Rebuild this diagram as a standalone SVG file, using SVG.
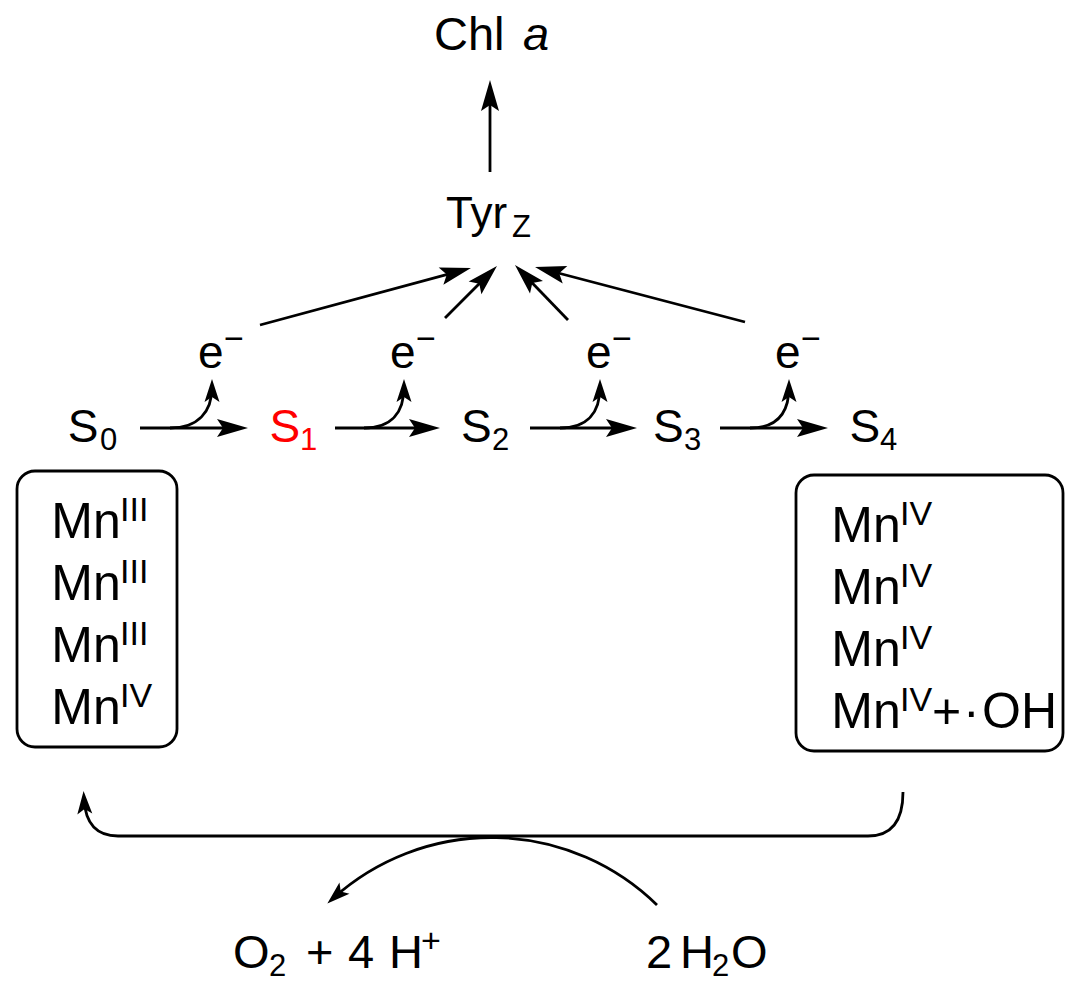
<svg xmlns="http://www.w3.org/2000/svg" width="1080" height="993" viewBox="0 0 1080 993">
<style>
text{font-family:"Liberation Sans",Arial,Helvetica,sans-serif;fill:#000}
.m{font-size:46px}
.sub{font-size:31px}
.sup{font-size:34px}
.mn{font-size:50px}
.ln{fill:none;stroke:#000;stroke-width:2.8}
.bx{fill:#fff;stroke:#000;stroke-width:2.8}
.red{fill:#ff0000}
</style>
<defs>
<marker id="big" markerUnits="userSpaceOnUse" viewBox="0 -9 31 18" refX="21" refY="0" markerWidth="31" markerHeight="18" orient="auto" overflow="visible">
<path d="M31,0 L0,-9 L6,0 L0,9 Z" fill="#000"/>
</marker>
<marker id="small" markerUnits="userSpaceOnUse" viewBox="0 -7.5 23 15" refX="15" refY="0" markerWidth="23" markerHeight="15" orient="auto" overflow="visible">
<path d="M23,0 L0,-7.5 L5,0 L0,7.5 Z" fill="#000"/>
</marker>
</defs>
<rect width="1080" height="993" fill="#fff"/>

<g id="connectors">
<path class="ln" d="M490,172 V90" marker-end="url(#big)"/>
<path class="ln" d="M260,325 L461.3,270.6" marker-end="url(#big)"/>
<path class="ln" d="M445,318 L489.9,273.1" marker-end="url(#big)"/>
<path class="ln" d="M568,320 L521.9,272.2" marker-end="url(#big)"/>
<path class="ln" d="M745,322 L544.7,269.5" marker-end="url(#big)"/>
<path class="ln" d="M140,428 H238" marker-end="url(#big)"/>
<path class="ln" d="M335,428 H430" marker-end="url(#big)"/>
<path class="ln" d="M530,428 H627" marker-end="url(#big)"/>
<path class="ln" d="M720,428 H818" marker-end="url(#big)"/>
<path class="ln" d="M170,428 C198,428 212,412 212,387" marker-end="url(#small)"/>
<path class="ln" d="M364,428 C392,428 404,412 404,387" marker-end="url(#small)"/>
<path class="ln" d="M560,428 C588,428 600,412 600,387" marker-end="url(#small)"/>
<path class="ln" d="M750,428 C778,428 789,412 789,387" marker-end="url(#small)"/>
<path class="ln" d="M903,792 Q903,836 868,836 H118 Q86,836 84,799" marker-end="url(#small)"/>
<path class="ln" d="M657,905 A236.7,236.7 0 0 0 333.3,898.1" marker-end="url(#small)"/>
</g>

<g id="chl">
<text x="434" y="50" style="font-size:47px">Chl <tspan x="523" font-style="italic">a</tspan></text>
</g>
<g id="tyr">
<text x="446" y="228" style="font-size:44px">Tyr</text>
<text x="512" y="237" class="sub">Z</text>
</g>

<g id="e1"><text x="198" y="368" class="m">e</text><text x="224" y="350" style="font-size:34px">−</text></g>
<g id="e2"><text x="390" y="368" class="m">e</text><text x="416" y="350" style="font-size:34px">−</text></g>
<g id="e3"><text x="586" y="368" class="m">e</text><text x="612" y="350" style="font-size:34px">−</text></g>
<g id="e4"><text x="775" y="368" class="m">e</text><text x="801" y="350" style="font-size:34px">−</text></g>

<g id="s0"><text x="67.7" y="442" class="m">S</text><text x="100" y="450" class="sub">0</text></g>
<g id="s1"><text x="269.5" y="442" class="m red">S</text><text x="300" y="450" class="sub red">1</text></g>
<g id="s2"><text x="461" y="442" class="m">S</text><text x="492" y="450" class="sub">2</text></g>
<g id="s3"><text x="653" y="442" class="m">S</text><text x="684" y="450" class="sub">3</text></g>
<g id="s4"><text x="849.5" y="442" class="m">S</text><text x="880" y="450" class="sub">4</text></g>

<g id="box-left">
<rect class="bx" x="17" y="471" width="160" height="276" rx="18"/>
<text x="51.3" y="538" class="mn">Mn</text><text x="120" y="521" class="sup">III</text>
<text x="51.3" y="600" class="mn">Mn</text><text x="120" y="583" class="sup">III</text>
<text x="51.3" y="662" class="mn">Mn</text><text x="120" y="645" class="sup">III</text>
<text x="51.3" y="724" class="mn">Mn</text><text x="120" y="707" class="sup">IV</text>
</g>

<g id="box-right">
<rect class="bx" x="796" y="475" width="267" height="276" rx="18"/>
<text x="831.3" y="542" class="mn">Mn</text><text x="900" y="525" class="sup">IV</text>
<text x="831.3" y="604" class="mn">Mn</text><text x="900" y="587" class="sup">IV</text>
<text x="831.3" y="666" class="mn">Mn</text><text x="900" y="649" class="sup">IV</text>
<text x="831.3" y="728" class="mn">Mn</text><text x="900" y="711" class="sup">IV</text>
<text x="932" y="728" class="mn">+</text><text x="963" y="728" class="mn">·</text><text x="982" y="728" class="mn">OH</text>
</g>

<g id="o2">
<text x="233" y="968" style="font-size:47px">O</text>
<text x="269" y="976" class="sub">2</text>
<text x="306" y="968" style="font-size:47px">+</text>
<text x="348" y="968" style="font-size:47px">4</text>
<text x="389" y="968" style="font-size:47px">H</text>
<text x="421" y="952" class="sup">+</text>
</g>

<g id="h2o">
<text x="646" y="968" style="font-size:47px">2</text>
<text x="680" y="968" style="font-size:47px">H</text>
<text x="712" y="976" class="sub">2</text>
<text x="731" y="968" style="font-size:47px">O</text>
</g>
</svg>
